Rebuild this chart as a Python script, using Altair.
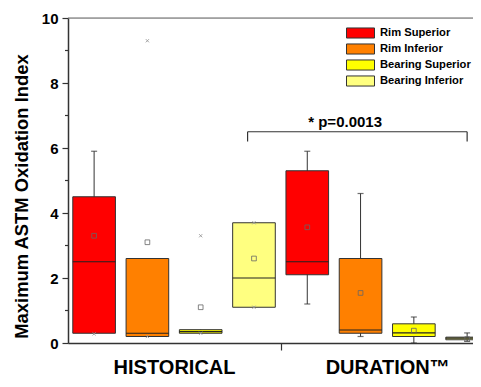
import altair as alt
import pandas as pd

FONT = "Liberation Sans, Arial, sans-serif"

groups = ["HISTORICAL", "DURATION™"]
series = ["Rim Superior", "Rim Inferior", "Bearing Superior", "Bearing Inferior"]
colors = ["#FF0000", "#FF8000", "#FFFF00", "#FFFF80"]

# box statistics, order: HISTORICAL x 4 series, then DURATION x 4 series
q1 = [0.3, 0.2, 0.3, 1.1, 2.1, 0.3, 0.2, 0.1]
median = [2.5, 0.3, 0.35, 2.0, 2.5, 0.4, 0.31, 0.15]
q3 = [4.5, 2.6, 0.41, 3.7, 5.3, 2.6, 0.59, 0.18]
whisker_lo = [0.3, 0.2, 0.3, 1.1, 1.2, 0.2, 0.0, 0.05]
whisker_hi = [5.9, 2.6, 0.41, 3.7, 5.9, 4.6, 0.8, 0.31]
mean = [3.3, 3.1, 1.1, 2.6, 3.56, 1.54, 0.38, 0.12]
caps = [[5.9], [], [], [], [5.9, 1.2], [4.6, 0.2], [0.8, 0.0], [0.31, 0.05]]
x_marks = [[0.28], [9.3, 0.2], [3.3, 0.3], [3.7, 1.1], [], [], [], []]

p_label = "* p=0.0013"

rows = []
cap_rows = []
xm_rows = []
for gi, g in enumerate(groups):
    for si, s in enumerate(series):
        i = gi * 4 + si
        pos = i
        rows.append(dict(group=g, series=s, pos=pos, left=pos - 0.4, right=pos + 0.4,
                         q1=q1[i], med=median[i], q3=q3[i], lo=whisker_lo[i],
                         hi=whisker_hi[i], mean=mean[i]))
        for c in caps[i]:
            cap_rows.append(dict(pos=pos, v=c))
        for m in x_marks[i]:
            xm_rows.append(dict(pos=pos, v=m))
df = pd.DataFrame(rows)
df_caps = pd.DataFrame(cap_rows)
df_xm = pd.DataFrame(xm_rows)

xs = alt.Scale(domain=[-0.49, 7.11], nice=False, zero=False)
ys = alt.Scale(domain=[0, 10], nice=False)

x_axis = alt.Axis(
    values=[1.5, 3.5, 5.5], title=None, grid=False,
    labelExpr="datum.value == 1.5 ? 'HISTORICAL' : (datum.value == 5.5 ? 'DURATION™' : '')",
    labelFont=FONT, labelFontSize=20, labelFontWeight="bold", labelColor="#000",
    labelPadding=7, tickSize=7, tickColor="#333", tickWidth=1.2,
    tickOpacity={"condition": {"test": "datum.value == 3.5", "value": 1}, "value": 0},
    domainColor="#333", domainWidth=1.5, labelFlush=False, labelOverlap=False,
)
y_axis = alt.Axis(
    values=[0, 2, 4, 6, 8, 10], title="Maximum ASTM Oxidation Index", grid=False,
    labelFont=FONT, labelFontSize=15, labelFontWeight="bold", labelColor="#000",
    labelPadding=4, tickSize=6, tickColor="#333", tickWidth=1.2,
    domainColor="#333", domainWidth=1.5,
    titleFont=FONT, titleFontSize=18.4, titleFontWeight="bold", titleColor="#000",
    titleX=-41, titleY=178, titleAngle=-90, titleAlign="center",
    titleBaseline="alphabetic",
)

base = alt.Chart(df)

whisk = base.mark_rule(color="#333", strokeWidth=1, clip=True).encode(
    x=alt.X("pos:Q", scale=xs, axis=x_axis),
    y=alt.Y("lo:Q", scale=ys, axis=y_axis),
    y2="hi:Q",
)

boxes = base.mark_rect(stroke="#333", strokeWidth=1, clip=True).encode(
    x="left:Q", x2="right:Q", y="q1:Q", y2="q3:Q",
    fill=alt.Fill("series:N", scale=alt.Scale(domain=series, range=colors),
                  legend=alt.Legend(
                      title=None, orient="none", legendX=278, legendY=7,
                      direction="vertical",
                      symbolType="M-1,-0.36H1V0.36H-1Z", symbolSize=784,
                      symbolStrokeColor="#333", symbolStrokeWidth=1, symbolOpacity=1,
                      labelFont=FONT, labelFontSize=11.2, labelFontWeight="bold",
                      labelColor="#000", labelOffset=5, clipHeight=16,
                      rowPadding=0, padding=0, labelLimit=300)),
)

meds = base.mark_rule(color="#222", strokeWidth=1.2, clip=True).encode(
    x="left:Q", x2="right:Q", y="med:Q",
)

cap_marks = alt.Chart(df_caps).mark_point(
    shape="M-1,0H1", size=36, filled=False, stroke="#333", strokeWidth=1.2, clip=True
).encode(x="pos:Q", y="v:Q")

means = base.mark_point(shape="square", size=22, filled=False, color="#666",
                        strokeWidth=0.8, opacity=1, clip=True).encode(
    x="pos:Q", y="mean:Q",
)

xmarks = alt.Chart(df_xm).mark_point(
    shape="M-1,-1L1,1M-1,1L1,-1", size=10, filled=False, color="#999",
    strokeWidth=0.9, opacity=1, clip=True
).encode(x="pos:Q", y="v:Q")

minor = alt.Chart(pd.DataFrame({"v": [1, 3, 5, 7, 9]})).mark_rule(
    color="#333", strokeWidth=1.2).encode(
    x=alt.value(-3), x2=alt.value(0), y="v:Q")

top_line = alt.Chart(pd.DataFrame({"v": [10]})).mark_rule(
    color="#666", strokeWidth=1.2).encode(
    x=alt.value(0), x2=alt.value("width"), y="v:Q")

bracket = alt.Chart(pd.DataFrame({
    "xa": [2.88, 2.88, 7.0], "xb": [7.0, 2.88, 7.0],
    "ya": [6.5, 6.2, 6.2], "yb": [6.5, 6.5, 6.5],
})).mark_rule(color="#333", strokeWidth=1.2).encode(
    x="xa:Q", x2="xb:Q", y="ya:Q", y2="yb:Q")

ptext = alt.Chart(pd.DataFrame({"t": [p_label], "x": [4.71], "y": [6.66]})).mark_text(
    font=FONT, fontSize=15, fontWeight="bold", color="#000", baseline="alphabetic"
).encode(x="x:Q", y="y:Q", text="t:N")

chart = alt.layer(
    top_line, whisk, boxes, meds, cap_marks, means, xmarks, minor, bracket, ptext
).properties(
    width=405, height=325,
    padding={"left": 60, "top": 10, "right": 0, "bottom": 36},
    autosize=alt.AutoSizeParams(type="none"),
).configure_view(stroke=None).configure(background="white")

chart.save("out.html", embed_options={"renderer": "svg", "actions": False})
